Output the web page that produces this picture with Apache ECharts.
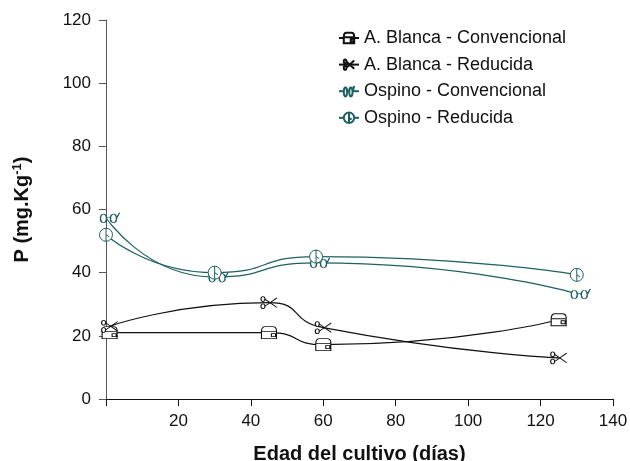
<!DOCTYPE html>
<html><head><meta charset="utf-8">
<script src="https://cdn.jsdelivr.net/npm/echarts@6/dist/echarts.min.js"></script>
<style>html,body{margin:0;padding:0;background:#fff}#c{width:630px;height:461px}</style>
</head><body><div id="c"></div>
<script>
const seriesNames = ['A. Blanca - Convencional','A. Blanca - Reducida','Ospino - Convencional','Ospino - Reducida'];
const abConvX = [1, 45, 60, 125];
const abConvY = [21, 21, 17.2, 25.1];
const abRedX = [1, 45, 60, 125];
const abRedY = [23, 30.5, 22.6, 13];
const ospConvX = [0, 30, 58, 130];
const ospConvY = [57.4, 38.6, 43.1, 33.3];
const ospRedX = [0, 30, 58, 130];
const ospRedY = [52, 40, 45.1, 39.3];
const xTicks = [0,20,40,60,80,100,120,140];
const yTicks = [0,20,40,60,80,100,120];

const black = '#111';
const teal = '#1f6060';
const symMail = 'path://M0,5 L0,12 L15,12 L15,4 Q15,0 11,0 L4,0 Q0,0 0,5 Z M0,5 L15,5 M10,7 L14,7 L14,10 L10,10 Z';
const symScis = 'path://M4,3 L16,10 M4,9 L16,2 M0,3 A2,2 0 1 0 4,3 A2,2 0 1 0 0,3 Z M0,9 A2,2 0 1 0 4,9 A2,2 0 1 0 0,9 Z';
const symGlass = 'path://M0,6 A3,3 0 1 0 6,6 A3,3 0 1 0 0,6 Z M6,6 Q8,4 10,6 M10,6 A3,3 0 1 0 16,6 A3,3 0 1 0 10,6 Z M16,6 L19,2';
const symCirc = 'path://M0,6 A6,6 0 1 0 12,6 A6,6 0 1 0 0,6 Z M6,0 L6,12 M6,6 L9,8';

function pairs(xs, ys){ return xs.map((x,i)=>[x, ys[i]]); }
function mk(name, xs, ys, color, sym, size, offset){
  return {
    name, type:'line', data:pairs(xs,ys), smooth:0.6,
    symbol:sym, symbolSize:size, symbolOffset:offset,
    lineStyle:{color, width:1.2},
    itemStyle:{color:'#fff', borderColor:color, borderWidth:1},
    emphasis:{disabled:true}
  };
}
const chart = echarts.init(document.getElementById('c'));
chart.setOption({
  animation:false,
  textStyle:{fontFamily:'Liberation Sans, Arial, sans-serif'},
  grid:{left:106, right:17, top:20, bottom:62, containLabel:false, outerBoundsMode:'none'},
  legend:{
    orient:'vertical', left:333, top:24, itemGap:8.6, itemWidth:20, itemHeight:13,
    textStyle:{fontSize:18, lineHeight:18, color:'#111'},
    data:seriesNames
  },
  xAxis:{
    type:'value', min:0, max:140, interval:20,
    name:'Edad del cultivo (días)', nameLocation:'middle', nameGap:45,
    nameTextStyle:{fontSize:20, fontWeight:'bold', color:'#111'},
    axisLine:{lineStyle:{color:'#111'}},
    axisTick:{length:7, lineStyle:{color:'#111'}},
    axisLabel:{fontSize:17, color:'#111', margin:14, formatter:v=> v===0 ? '' : String(v)},
    splitLine:{show:false}
  },
  yAxis:{
    type:'value', min:0, max:120, interval:20,
    name:'{a|P (mg.Kg}{s|-1}{a|)}', nameLocation:'middle', nameGap:72, nameRotate:90,
    nameTextStyle:{rich:{a:{fontSize:20, fontWeight:'bold', color:'#111'}, s:{fontSize:13, fontWeight:'bold', color:'#111', verticalAlign:'top', padding:[0,0,10,0]}}},
    axisLine:{show:true, lineStyle:{color:'#555'}},
    axisTick:{show:true, length:7, lineStyle:{color:'#555'}},
    axisLabel:{fontSize:17, color:'#111', margin:15},
    splitLine:{show:false}
  },
  series:[
    mk(seriesNames[0], abConvX, abConvY, black, symMail, [15,12], [0,0]),
    mk(seriesNames[1], abRedX, abRedY, black, symScis, [16,12], [0,0]),
    mk(seriesNames[2], ospConvX, ospConvY, teal, symGlass, [19,10], [4,0]),
    mk(seriesNames[3], ospRedX, ospRedY, teal, symCirc, [13,13], [0,0])
  ]
});
</script></body></html>
